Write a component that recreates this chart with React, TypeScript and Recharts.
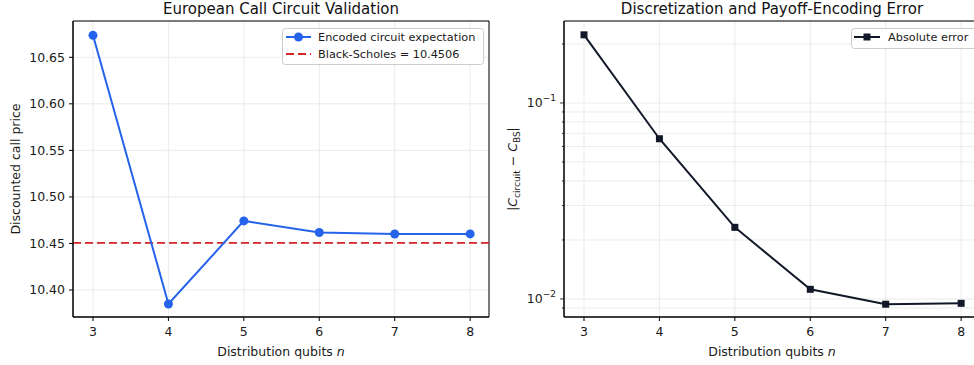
import React from 'react';
import {
  LineChart,
  Line,
  XAxis,
  YAxis,
  CartesianGrid,
  ReferenceLine,
  ReferenceArea,
} from 'recharts';

// values
const qubits = [3, 4, 5, 6, 7, 8];
const circuitPrice = [10.6736, 10.385, 10.4742, 10.4618, 10.4602, 10.4603];
const absError = [0.2227, 0.0657, 0.0232, 0.0112, 0.0094, 0.0095];
const blackScholes = 10.4506;

const priceTicks = [10.4, 10.45, 10.5, 10.55, 10.6, 10.65];
const errorMajorTicks = [0.01, 0.1];
const errorTicks = [0.009, 0.01, 0.02, 0.03, 0.04, 0.05, 0.06, 0.07, 0.08, 0.09, 0.1, 0.2];

const FONT = '"DejaVu Sans", sans-serif';
const BLUE = '#2563eb';
const RED = '#d62728';
const NAVY = '#111827';
const GRID = '#e6e6e6';

const X_DOMAIN: [number, number] = [2.735, 8.25];
const PRICE_DOMAIN: [number, number] = [10.371, 10.689];
const ERR_DOMAIN: [number, number] = [0.00809, 0.262];

const priceData = qubits.map((n, i) => ({ n, price: circuitPrice[i] }));
const errorData = qubits.map((n, i) => ({ n, err: absError[i] }));

const tickStyle = { fill: '#1a1a1a', fontSize: 12.5, fontFamily: FONT };

// log axis tick: major ticks get a label like 10^-1, minor ones only a short mark
const LogTick = (props: any) => {
  const { x, y, payload } = props;
  const v = payload.value;
  const major = errorMajorTicks.some((m) => Math.abs(m - v) < 1e-9);
  const exp = Math.round(Math.log10(v));
  return (
    <g>
      <line x1={x} x2={x - (major ? 4 : 2)} y1={y} y2={y} stroke="#000" strokeWidth={0.8} />
      {major && (
        <text x={x - 8} y={y + 4.5} textAnchor="end" fontFamily={FONT} fontSize={12.5} fill="#1a1a1a">
          10
          <tspan fontSize={9} dy={-6}>
            {'\u2212' + Math.abs(exp)}
          </tspan>
        </text>
      )}
    </g>
  );
};

const SquareDot = (props: any) => {
  const { cx, cy, index } = props;
  if (cx == null || cy == null) return <g key={index} />;
  return <rect key={index} x={cx - 3.5} y={cy - 3.5} width={7} height={7} fill={NAVY} />;
};

const PriceChart = () => (
  <LineChart
    width={500}
    height={365}
    data={priceData}
    margin={{ top: 21, right: 11, bottom: 0, left: 0 }}
  >
    <CartesianGrid stroke={GRID} strokeWidth={0.8} />
    <XAxis
      dataKey="n"
      type="number"
      domain={X_DOMAIN}
      ticks={qubits}
      interval={0}
      allowDataOverflow
      height={48}
      tickSize={4}
      tickMargin={6}
      stroke="#000"
      tick={tickStyle}
    />
    <YAxis
      type="number"
      domain={PRICE_DOMAIN}
      ticks={priceTicks}
      interval={0}
      allowDataOverflow
      width={73}
      tickSize={4}
      tickMargin={4}
      stroke="#000"
      tick={tickStyle}
      tickFormatter={(v: number) => v.toFixed(2)}
    />
    <ReferenceLine y={blackScholes} stroke={RED} strokeWidth={1.8} strokeDasharray="8 4" />
    <Line
      dataKey="price"
      stroke={BLUE}
      strokeWidth={2}
      dot={{ r: 4.5, fill: BLUE, stroke: BLUE, strokeWidth: 0 }}
      isAnimationActive={false}
    />
    <ReferenceArea
      x1={X_DOMAIN[0]}
      x2={X_DOMAIN[1]}
      y1={PRICE_DOMAIN[0]}
      y2={PRICE_DOMAIN[1]}
      fill="none"
      stroke="#000"
      strokeWidth={1}
    />
  </LineChart>
);

const ErrorChart = () => (
  <LineChart
    width={500}
    height={365}
    data={errorData}
    margin={{ top: 21, right: 10, bottom: 0, left: 0 }}
  >
    <CartesianGrid stroke={GRID} strokeWidth={0.8} />
    <XAxis
      dataKey="n"
      type="number"
      domain={X_DOMAIN}
      ticks={qubits}
      interval={0}
      allowDataOverflow
      height={48}
      tickSize={4}
      tickMargin={6}
      stroke="#000"
      tick={tickStyle}
    />
    <YAxis
      type="number"
      scale="log"
      domain={ERR_DOMAIN}
      ticks={errorTicks}
      interval={0}
      allowDataOverflow
      width={74}
      tickSize={0}
      tickMargin={0}
      tickLine={false}
      stroke="#000"
      tick={<LogTick />}
    />
    <Line
      dataKey="err"
      stroke={NAVY}
      strokeWidth={2}
      dot={<SquareDot />}
      isAnimationActive={false}
    />
    <ReferenceArea
      x1={X_DOMAIN[0]}
      x2={X_DOMAIN[1]}
      y1={ERR_DOMAIN[0]}
      y2={ERR_DOMAIN[1]}
      fill="none"
      stroke="#000"
      strokeWidth={1}
    />
  </LineChart>
);

// titles, axis labels and legends
const Overlay = () => (
  <svg
    width={974}
    height={365}
    style={{ position: 'absolute', left: 0, top: 0, pointerEvents: 'none' }}
    fontFamily={FONT}
  >
    <text x={281} y={14} textAnchor="middle" fontSize={15} fill="#111">
      European Call Circuit Validation
    </text>
    <text x={772} y={14} textAnchor="middle" fontSize={15} fill="#111">
      Discretization and Payoff-Encoding Error
    </text>

    <text x={281} y={356} textAnchor="middle" fontSize={12.5} fill="#1a1a1a">
      Distribution qubits <tspan fontStyle="italic">n</tspan>
    </text>
    <text x={772} y={356} textAnchor="middle" fontSize={12.5} fill="#1a1a1a">
      Distribution qubits <tspan fontStyle="italic">n</tspan>
    </text>

    <text
      transform="translate(20,169) rotate(-90)"
      textAnchor="middle"
      fontSize={12.5}
      fill="#1a1a1a"
    >
      Discounted call price
    </text>
    <text
      transform="translate(517,169) rotate(-90)"
      textAnchor="middle"
      fontSize={12.5}
      fill="#1a1a1a"
    >
      |<tspan fontStyle="italic">C</tspan>
      <tspan fontSize={9} dy={3}>circuit</tspan>
      <tspan dy={-3}> − </tspan>
      <tspan fontStyle="italic">C</tspan>
      <tspan fontSize={9} dy={3}>BS</tspan>
      <tspan dy={-3}>|</tspan>
    </text>

    {/* left legend */}
    <rect x={282.5} y={28.5} width={201} height={36} rx={3} fill="#fff" fillOpacity={0.85} stroke="#cccccc" />
    <line x1={286} x2={311} y1={37} y2={37} stroke={BLUE} strokeWidth={2} />
    <circle cx={298.5} cy={37} r={4.5} fill={BLUE} />
    <text x={318} y={41} fontSize={11.3} fill="#1a1a1a">
      Encoded circuit expectation
    </text>
    <line x1={286} x2={311} y1={54} y2={54} stroke={RED} strokeWidth={1.8} strokeDasharray="8 4" />
    <text x={318} y={58} fontSize={11.3} fill="#1a1a1a">
      Black-Scholes = 10.4506
    </text>

    {/* right legend */}
    <rect x={851.5} y={28.5} width={140} height={20} rx={3} fill="#fff" fillOpacity={0.85} stroke="#cccccc" />
    <line x1={854} x2={880} y1={37} y2={37} stroke={NAVY} strokeWidth={2} />
    <rect x={863.5} y={33.5} width={7} height={7} fill={NAVY} />
    <text x={888} y={41} fontSize={11.3} fill="#1a1a1a">
      Absolute error
    </text>
  </svg>
);

export default function App() {
  return (
    <div
      style={{
        position: 'absolute',
        left: 0,
        top: 0,
        width: 974,
        height: 365,
        overflow: 'hidden',
        background: '#fff',
        fontFamily: FONT,
      }}
    >
      <div style={{ position: 'absolute', left: 0, top: 0 }}>
        <PriceChart />
      </div>
      <div style={{ position: 'absolute', left: 490, top: 0 }}>
        <ErrorChart />
      </div>
      <Overlay />
    </div>
  );
}
